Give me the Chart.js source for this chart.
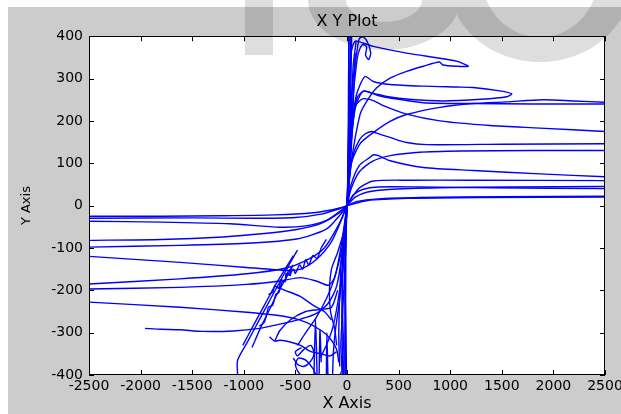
<!DOCTYPE html>
<html>
<head>
<meta charset="utf-8">
<script src="https://cdn.jsdelivr.net/npm/chart.js@4.4.0/dist/chart.umd.min.js"></script>
<style>
    html, body {margin: 0; padding: 0; background: #fff; overflow: hidden}
    #wrap {width: 621px; height: 414px}
</style>
</head>
<body>
<div id="wrap"><canvas id="myChart" width="621" height="414"></canvas></div>
<script>
const xTicks = [-2500, -2000, -1500, -1000, -500, 0, 500, 1000, 1500, 2000, 2500]
const yTicks = [-400, -300, -200, -100, 0, 100, 200, 300, 400]

// upper right
const topLoop = [[0,0],[40,100],[126,215],[191,246],[288,278],[417,301],[578,317],[740,329],[895,339],[930,332],[1063,329],[1176,329],[1063,341],[901,348],[578,360],[255,376],[155,384],[78,388],[40,360],[25,250],[10,80]]
const tipLoop = [[0,0],[30,150],[90,260],[174,305],[255,293],[417,286],[740,282],[1063,280],[1221,279],[1482,271],[1596,264],[1547,257],[1300,251],[930,247],[600,251],[400,257],[255,265],[158,270],[100,255],[60,200],[20,80]]
const topKnots = [[10,0],[40,250],[80,340],[100,370],[120,395],[160,398],[200,385],[230,360],[210,345],[180,355],[190,375],[150,380],[110,360],[90,330],[60,260],[30,120]]
const r240 = [[0,0],[30,120],[80,230],[158,270],[300,260],[417,254],[740,243],[1200,241],[1800,240],[2500,240]]
const r244 = [[0,0],[29,90],[126,146],[258,173],[417,199],[578,215],[901,232],[1224,241],[1547,245],[1900,250],[2200,247],[2500,244]]
const r175 = [[0,0],[25,150],[70,230],[150,252],[255,248],[352,236],[578,216],[901,200],[1386,189],[1870,183],[2500,175]]
const r146 = [[0,0],[20,60],[60,120],[120,155],[174,169],[239,175],[288,171],[417,161],[578,149],[772,144],[1500,145],[2500,146]]
const r130 = [[0,0],[40,40],[120,80],[250,105],[420,118],[700,126],[1100,129],[1800,130],[2500,130]]
const r68 = [[0,0],[40,50],[120,95],[223,114],[255,120],[304,118],[417,106],[740,90],[1224,83],[1870,75],[2500,68]]
const r59 = [[0,0],[50,20],[126,43],[255,58],[600,60],[1200,60],[2500,59]]
const r45 = [[0,0],[80,20],[200,32],[400,38],[900,42],[1600,44],[2500,45]]
const r40 = [[0,0],[60,25],[150,38],[300,44],[700,44],[1400,42],[2500,40]]
const r22 = [[0,0],[100,10],[300,16],[700,19],[1500,21],[2500,22]]
const r20 = [[0,0],[200,12],[600,17],[1300,19],[2500,20]]

// near vertical bundle
const v1 = [[-20,-400],[-20,-200],[-10,-50],[0,0],[10,100],[15,300],[20,400]]
const v2 = [[-40,-400],[-50,-250],[-30,-100],[0,0],[25,120],[35,250],[45,400]]
const v3 = [[-5,-400],[-10,-300],[-20,-150],[0,0],[20,60],[40,200],[60,330],[90,390]]
const v4 = [[-70,-380],[-80,-300],[-60,-150],[-20,-40],[0,0],[30,80],[50,180],[70,300],[80,360]]
const v5 = [[17,400],[17,200],[12,50],[0,0],[-10,-60],[-15,-400]]
const v6 = [[0,0],[-30,-120],[-70,-220],[-110,-290],[-130,-340],[-140,-400]]
const v7 = [[0,0],[-20,-150],[-45,-260],[-60,-330],[-50,-390],[-70,-400]]
const v8 = [[0,0],[-35,-90],[-45,-180],[-40,-280],[-30,-350],[-35,-400]]
const v9 = [[5,0],[10,120],[22,260],[30,350],[35,400]]

// lower left
const l25 = [[-2500,-25],[-1800,-25],[-1200,-24],[-700,-22],[-326,-17],[-150,-10],[-40,-4],[0,0]]
const l30 = [[-2500,-30],[-1500,-29],[-900,-30],[-500,-28],[-250,-20],[-80,-8],[0,0]]
const l37 = [[-2500,-37],[-1800,-39],[-1134,-43],[-650,-51],[-400,-48],[-200,-35],[-60,-12],[0,0]]
const l82 = [[-2500,-82],[-1800,-80],[-1200,-74],[-800,-66],[-500,-57],[-250,-42],[-80,-18],[0,0]]
const l98 = [[-2500,-98],[-1618,-94],[-972,-89],[-487,-79],[-197,-55],[-60,-20],[0,0]]
const l120 = [[-2500,-120],[-1618,-134],[-972,-146],[-584,-153],[-450,-150],[-300,-128],[-150,-85],[-40,-25],[0,0]]
const l185 = [[-2500,-185],[-1618,-173],[-972,-161],[-600,-148],[-400,-130],[-220,-100],[-80,-45],[0,0]]
const l197 = [[-2500,-197],[-1618,-193],[-972,-186],[-650,-178],[-450,-170],[-300,-178],[-180,-188],[-120,-170],[-60,-100],[0,0]]
const l228 = [[-2500,-228],[-1618,-240],[-972,-252],[-600,-262],[-400,-275],[-250,-295],[-160,-315],[-100,-340],[-80,-370]]
const l290 = [[-1957,-290],[-1800,-292],[-1618,-293],[-1400,-297],[-1100,-296],[-850,-290],[-650,-280],[-450,-268],[-300,-255],[-180,-230],[-100,-190],[-40,-100],[0,0]]

const b1 = [[-750,-310],[-700,-320],[-650,-318],[-550,-322],[-450,-330],[-350,-345],[-250,-350],[-170,-355],[-100,-345]]
const b2 = [[-700,-320],[-650,-295],[-550,-270],[-400,-250],[-250,-245],[-150,-240],[-90,-200]]
const b3 = [[-520,-360],[-480,-375],[-420,-380],[-360,-370],[-320,-350],[-350,-330],[-420,-340],[-480,-355],[-500,-345],[-440,-335]]
const b4 = [[-450,-400],[-480,-390],[-500,-375],[-470,-360],[-400,-365],[-330,-385],[-300,-400]]
const s1 = [[-320,-400],[-305,-268],[-290,-400]]
const s2 = [[-270,-400],[-262,-295],[-250,-370]]
const s3 = [[-200,-400],[-195,-300],[-185,-400]]
const f1 = [[0,0],[-20,-80],[-50,-160],[-90,-230],[-140,-290],[-200,-330],[-260,-360]]
const f2 = [[0,0],[-40,-90],[-120,-170],[-200,-220],[-300,-265],[-400,-300],[-480,-330]]
const c1 = [[0,0],[-30,-60],[-90,-110],[-150,-150],[-170,-200],[-160,-250],[-120,-290],[-100,-330]]
const c2 = [[-700,-190],[-600,-200],[-450,-215],[-330,-235],[-220,-250],[-150,-270]]
const w1 = [[-560,-165],[-520,-150],[-500,-160],[-460,-140],[-430,-150],[-400,-128],[-370,-140],[-330,-118],[-290,-125],[-250,-100],[-200,-80]]

// hatched diagonals
const d1 = [[-1060,-400],[-1060,-365],[-960,-320],[-850,-270],[-740,-220],[-640,-175],[-550,-135],[-480,-105]]
const d2 = [[-1010,-330],[-900,-280],[-800,-235],[-700,-190],[-600,-150],[-520,-118]]
const d3 = [[-920,-335],[-840,-290],[-760,-250],[-680,-210],[-600,-175],[-520,-140]]
const d4 = [[-850,-285],[-800,-275],[-760,-240],[-720,-235],[-690,-210],[-660,-205],[-630,-180],[-600,-178],[-570,-155],[-540,-150]]
const d5 = [[-760,-210],[-720,-205],[-700,-190],[-660,-195],[-640,-175],[-600,-180],[-590,-160],[-550,-165],[-540,-145]]

const curves = [topLoop, tipLoop, topKnots, r240, r244, r175, r146, r130, r68, r59, r45, r40, r22, r20,
    v1, v2, v3, v4, v5, v6, v7, v8, v9,
    l25, l30, l37, l82, l98, l120, l185, l197, l228, l290,
    b1, b2, b3, b4, s1, s2, s3, f1, f2, c1, c2, w1, d1, d2, d3, d4, d5]

const frame = {
    id: 'frame',
    beforeDraw(chart) {
        const ctx = chart.ctx, a = chart.chartArea
        ctx.save()
        ctx.fillStyle = '#fff'
        ctx.fillRect(0, 0, chart.width, chart.height)
        ctx.fillStyle = '#cccccc'
        ctx.fillRect(8, 7, chart.width - 8, chart.height - 7)
        ctx.fillStyle = '#fff'
        ctx.fillRect(a.left, a.top, a.right - a.left, a.bottom - a.top)
        ctx.restore()
    },
    afterDraw(chart) {
        const ctx = chart.ctx, a = chart.chartArea
        const xs = chart.scales.x, ys = chart.scales.y
        ctx.save()
        ctx.strokeStyle = '#000'
        ctx.lineWidth = 1
        ctx.strokeRect(Math.round(a.left) + 0.5, Math.round(a.top) + 0.5, Math.round(a.right - a.left) - 1, Math.round(a.bottom - a.top) - 1)
        ctx.beginPath()
        xTicks.forEach(v => {
            const p = Math.round(xs.getPixelForValue(v)) + 0.5
            ctx.moveTo(p, a.bottom); ctx.lineTo(p, a.bottom - 5)
            ctx.moveTo(p, a.top); ctx.lineTo(p, a.top + 5)
        })
        yTicks.forEach(v => {
            const p = Math.round(ys.getPixelForValue(v)) + 0.5
            ctx.moveTo(a.left, p); ctx.lineTo(a.left + 5, p)
            ctx.moveTo(a.right, p); ctx.lineTo(a.right - 5, p)
        })
        ctx.stroke()

        // faint watermark letters across the top
        ctx.fillStyle = 'rgba(0,0,0,0.13)'
        ctx.beginPath()
        ctx.rect(245, 0, 28, 55)
        ctx.moveTo(460, 0)
        ctx.ellipse(384, 0, 76, 50, 0, 0, Math.PI, false)
        ctx.closePath()
        ctx.moveTo(346, 0)
        ctx.ellipse(384, 0, 38, 22, 0, Math.PI, 0, true)
        ctx.closePath()
        ctx.moveTo(632, -20)
        ctx.ellipse(540, -20, 92, 82, 0, 0, Math.PI * 2, false)
        ctx.closePath()
        ctx.moveTo(597, -20)
        ctx.ellipse(540, -20, 57, 57, 0, Math.PI * 2, 0, true)
        ctx.closePath()
        ctx.fill('nonzero')
        ctx.restore()
    }
}

const tickFont = {family: 'DejaVu Sans', size: 14}

const config = {
    type: 'scatter',
    data: {
        datasets: curves.map(c => ({
            data: c.map(p => ({x: p[0], y: p[1]})),
            showLine: true,
            borderColor: '#0000ff',
            borderWidth: 1.4,
            pointRadius: 0,
            fill: false,
            tension: 0.25
        }))
    },
    options: {
        responsive: false,
        animation: false,
        devicePixelRatio: 1,
        layout: {padding: {left: 8, top: 7, right: 16, bottom: 0}},
        plugins: {
            legend: {display: false},
            tooltip: {enabled: false},
            title: {
                display: true, fullSize: false, text: 'X Y Plot', color: '#000',
                font: {family: 'DejaVu Sans', size: 16, weight: 'normal'},
                padding: {top: 5, bottom: 5}
            }
        },
        scales: {
            x: {
                type: 'linear', min: -2500, max: 2500,
                afterBuildTicks: s => { s.ticks = xTicks.map(v => ({value: v})) },
                afterFit: s => { s.height = 39; s.paddingLeft = 0; s.paddingRight = 0 },
                grid: {display: false, drawTicks: false},
                border: {display: false},
                ticks: {color: '#000', font: tickFont, padding: 3, maxRotation: 0, autoSkip: false, callback: v => String(v)},
                title: {display: true, text: 'X Axis', color: '#000', font: {family: 'DejaVu Sans', size: 16}, padding: {top: 0, bottom: 1}}
            },
            y: {
                type: 'linear', min: -400, max: 400,
                afterBuildTicks: s => { s.ticks = yTicks.map(v => ({value: v})) },
                afterFit: s => { s.width = 81; s.paddingTop = 0; s.paddingBottom = 0 },
                grid: {display: false, drawTicks: false},
                border: {display: false},
                ticks: {color: '#000', font: tickFont, padding: 6, autoSkip: false, callback: v => String(v)},
                title: {display: true, text: 'Y Axis', color: '#000', font: {family: 'DejaVu Sans', size: 13}, padding: {top: 11, bottom: 0}}
            }
        }
    },
    plugins: [frame]
}

const myChart = new Chart(document.getElementById('myChart'), config)
</script>
</body>
</html>
